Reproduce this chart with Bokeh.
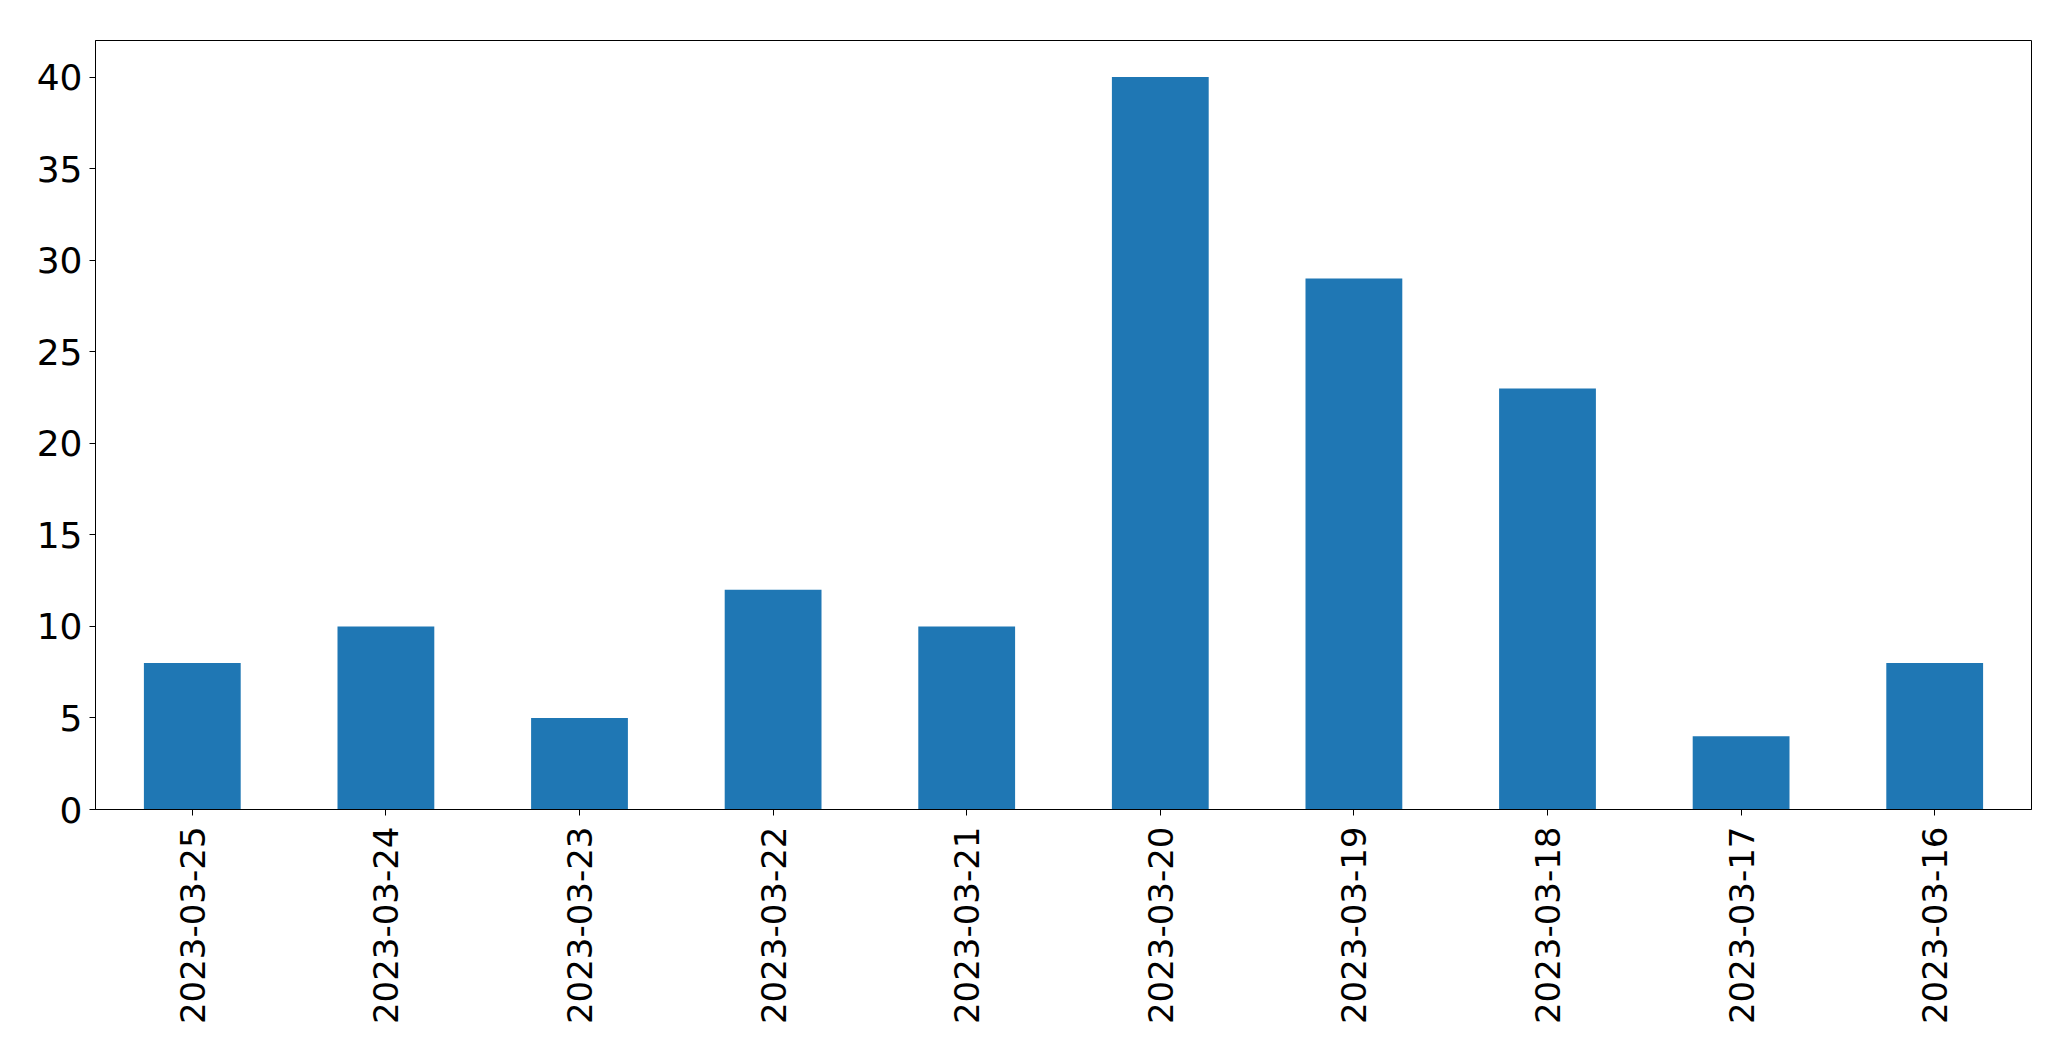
from bokeh.plotting import figure
from bokeh.models import FactorRange, Range1d, FixedTicker, ColumnDataSource
from bokeh.embed import file_html
from bokeh.resources import INLINE
import math

dates = ["2023-03-25", "2023-03-24", "2023-03-23", "2023-03-22", "2023-03-21",
         "2023-03-20", "2023-03-19", "2023-03-18", "2023-03-17", "2023-03-16"]
counts = [8, 10, 5, 12, 10, 40, 29, 23, 4, 8]
y_ticks = [0, 5, 10, 15, 20, 25, 30, 35, 40]

src = ColumnDataSource(dict(x=dates, top=counts))

p = figure(width=2071, height=1061, output_backend="svg", toolbar_location=None,
           x_range=FactorRange(factors=dates, range_padding=0),
           y_range=Range1d(0, 42))
p.min_border_left = 95
p.min_border_right = 40
p.min_border_top = 40
p.min_border_bottom = 252

p.vbar(x="x", top="top", bottom=0, width=0.5, source=src,
       fill_color="#1f77b4", line_color=None)

p.xgrid.visible = False
p.ygrid.visible = False
p.outline_line_color = "black"
p.outline_line_width = 1
p.outline_line_alpha = 1

for ax in (p.xaxis[0], p.yaxis[0]):
    ax.major_label_text_font = "DejaVu Sans"
    ax.major_label_text_color = "black"
    ax.axis_line_color = "black"
    ax.major_tick_line_color = "black"
    ax.major_tick_out = 6
    ax.major_tick_in = 0
    ax.minor_tick_line_color = None

p.yaxis[0].major_label_text_font_size = "36px"
p.xaxis[0].major_label_text_font_size = "34px"
p.yaxis[0].ticker = FixedTicker(ticks=y_ticks)
p.yaxis[0].major_label_standoff = 7
p.xaxis[0].major_label_orientation = math.pi / 2
p.xaxis[0].major_label_standoff = 11

open("out.html", "w").write(file_html(p, INLINE))
